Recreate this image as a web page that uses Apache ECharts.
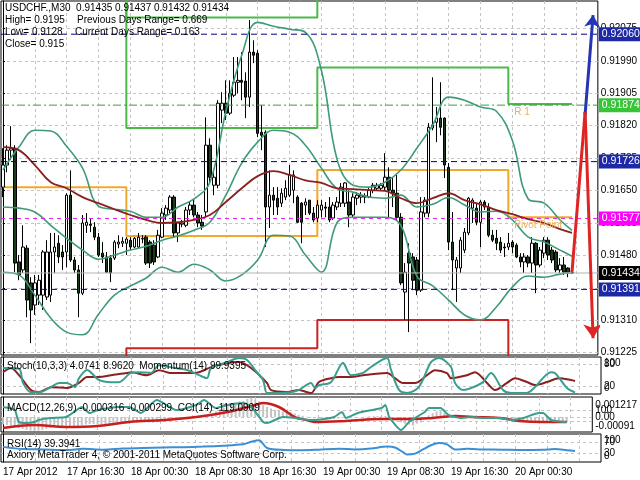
<!DOCTYPE html>
<html><head><meta charset="utf-8">
<script src="https://cdn.jsdelivr.net/npm/echarts@6.0.0/dist/echarts.min.js"></script>
<style>html,body{margin:0;padding:0;background:#fff;}#chart{width:640px;height:480px;}</style>
</head><body><div id="chart"></div>
<script>
// ---------------- data ----------------
// candles: [open, close, low, high], one per 30-minute bar (17 Apr 08:30 .. 20 Apr 08:00)
const candles = [
[0.91659,0.91717,0.91633,0.91761],[0.91717,0.91756,0.91698,0.91769],[0.91756,0.91761,0.91730,0.91819],[0.91761,0.91460,0.91436,0.91769],
[0.91463,0.91429,0.91415,0.91481],[0.91442,0.91502,0.91434,0.91559],[0.91499,0.91363,0.91318,0.91507],[0.91408,0.91337,0.91250,0.91423],
[0.91350,0.91408,0.91324,0.91429],[0.91376,0.91415,0.91350,0.91429],[0.91376,0.91489,0.91337,0.91494],[0.91371,0.91489,0.91363,0.91520],
[0.91376,0.91489,0.91358,0.91539],[0.91489,0.91502,0.91434,0.91539],[0.91512,0.91476,0.91460,0.91533],[0.91489,0.91476,0.91442,0.91507],
[0.91489,0.91638,0.91449,0.91643],[0.91638,0.91468,0.91463,0.91703],[0.91468,0.91442,0.91434,0.91476],[0.91442,0.91381,0.91318,0.91455],
[0.91381,0.91565,0.91376,0.91586],[0.91559,0.91567,0.91539,0.91591],[0.91562,0.91559,0.91541,0.91578],[0.91554,0.91528,0.91520,0.91567],
[0.91528,0.91481,0.91476,0.91539],[0.91486,0.91476,0.91460,0.91515],[0.91476,0.91436,0.91434,0.91489],[0.91473,0.91434,0.91410,0.91481],
[0.91473,0.91515,0.91468,0.91520],[0.91510,0.91515,0.91499,0.91533],[0.91512,0.91517,0.91502,0.91528],[0.91512,0.91523,0.91481,0.91528],
[0.91520,0.91502,0.91494,0.91528],[0.91502,0.91525,0.91499,0.91528],[0.91502,0.91528,0.91499,0.91539],[0.91523,0.91525,0.91512,0.91533],
[0.91528,0.91460,0.91455,0.91533],[0.91515,0.91460,0.91447,0.91520],[0.91507,0.91463,0.91455,0.91520],[0.91476,0.91533,0.91473,0.91547],
[0.91528,0.91591,0.91525,0.91604],[0.91586,0.91604,0.91573,0.91612],[0.91599,0.91633,0.91591,0.91638],[0.91633,0.91539,0.91528,0.91638],
[0.91539,0.91565,0.91515,0.91567],[0.91562,0.91565,0.91554,0.91573],[0.91559,0.91599,0.91554,0.91607],[0.91599,0.91612,0.91586,0.91620],
[0.91612,0.91586,0.91580,0.91625],[0.91586,0.91565,0.91554,0.91594],[0.91567,0.91557,0.91547,0.91586],[0.91594,0.91769,0.91580,0.91842],
[0.91769,0.91685,0.91670,0.91787],[0.91664,0.91685,0.91638,0.91698],[0.91664,0.91879,0.91656,0.91887],[0.91861,0.91879,0.91827,0.91908],
[0.91879,0.91853,0.91835,0.91939],[0.91853,0.91905,0.91848,0.91939],[0.91900,0.91934,0.91895,0.92000],[0.91934,0.91939,0.91905,0.92000],
[0.91939,0.91934,0.91887,0.92013],[0.91937,0.91895,0.91840,0.91960],[0.91895,0.92013,0.91869,0.92097],[0.92013,0.92005,0.91984,0.92044],
[0.92010,0.91800,0.91790,0.92018],[0.91803,0.91795,0.91756,0.91874],[0.91803,0.91607,0.91502,0.91808],[0.91607,0.91638,0.91552,0.91703],
[0.91638,0.91625,0.91586,0.91659],[0.91630,0.91607,0.91586,0.91659],[0.91617,0.91643,0.91607,0.91656],[0.91633,0.91656,0.91625,0.91677],
[0.91638,0.91691,0.91633,0.91717],[0.91651,0.91691,0.91617,0.91703],[0.91633,0.91567,0.91565,0.91638],[0.91617,0.91567,0.91512,0.91620],
[0.91612,0.91620,0.91586,0.91630],[0.91625,0.91591,0.91586,0.91625],[0.91591,0.91573,0.91567,0.91607],[0.91578,0.91612,0.91567,0.91625],
[0.91599,0.91612,0.91580,0.91625],[0.91607,0.91604,0.91580,0.91620],[0.91607,0.91573,0.91567,0.91633],[0.91578,0.91612,0.91573,0.91620],
[0.91607,0.91620,0.91599,0.91633],[0.91617,0.91659,0.91607,0.91670],[0.91617,0.91670,0.91607,0.91672],[0.91620,0.91586,0.91554,0.91651],
[0.91586,0.91633,0.91580,0.91643],[0.91630,0.91638,0.91612,0.91646],[0.91633,0.91638,0.91617,0.91646],[0.91633,0.91636,0.91617,0.91643],
[0.91633,0.91651,0.91630,0.91659],[0.91651,0.91664,0.91643,0.91670],[0.91656,0.91664,0.91651,0.91670],[0.91656,0.91664,0.91651,0.91670],
[0.91659,0.91685,0.91651,0.91748],[0.91685,0.91651,0.91580,0.91711],[0.91651,0.91643,0.91607,0.91683],[0.91643,0.91580,0.91573,0.91691],
[0.91580,0.91408,0.91402,0.91591],[0.91384,0.91436,0.91311,0.91460],[0.91486,0.91460,0.91279,0.91512],[0.91476,0.91415,0.91389,0.91486],
[0.91468,0.91389,0.91376,0.91476],[0.91389,0.91594,0.91384,0.91633],[0.91591,0.91625,0.91580,0.91633],[0.91591,0.91816,0.91580,0.91827],
[0.91814,0.91822,0.91808,0.91947],[0.91829,0.91840,0.91777,0.91869],[0.91840,0.91816,0.91795,0.91934],[0.91840,0.91717,0.91683,0.91842],
[0.91711,0.91515,0.91494,0.91722],[0.91515,0.91468,0.91389,0.91594],[0.91447,0.91468,0.91358,0.91476],[0.91447,0.91520,0.91434,0.91528],
[0.91494,0.91541,0.91486,0.91552],[0.91539,0.91630,0.91533,0.91633],[0.91604,0.91625,0.91565,0.91630],[0.91604,0.91567,0.91559,0.91617],
[0.91567,0.91620,0.91502,0.91625],[0.91620,0.91607,0.91599,0.91625],[0.91607,0.91533,0.91528,0.91617],[0.91533,0.91520,0.91515,0.91547],
[0.91525,0.91512,0.91494,0.91547],[0.91515,0.91494,0.91486,0.91528],[0.91502,0.91500,0.91476,0.91512],[0.91502,0.91512,0.91494,0.91539],
[0.91515,0.91502,0.91486,0.91520],[0.91507,0.91476,0.91473,0.91512],[0.91476,0.91463,0.91449,0.91486],[0.91463,0.91476,0.91434,0.91486],
[0.91476,0.91460,0.91449,0.91481],[0.91460,0.91512,0.91434,0.91528],[0.91512,0.91455,0.91381,0.91515],[0.91455,0.91494,0.91449,0.91502],
[0.91486,0.91520,0.91473,0.91528],[0.91520,0.91481,0.91468,0.91528],[0.91494,0.91468,0.91460,0.91502],[0.91489,0.91442,0.91436,0.91494],
[0.91442,0.91455,0.91434,0.91473],[0.91455,0.91436,0.91429,0.91476],[0.91447,0.91434,0.91423,0.91449],[0.91435,0.91434,0.91432,0.91437]
];
const SLOTS = 150; // bar slots across the chart width (right part is empty)

// Bollinger bands (20) and slow MA, read at these bar indices
const bandIdx  = [0,4,8,12,16,20,24,28,32,36,40,44,48,52,56,60,64,68,72,76,80,84,88,92,96,100,104,108,112,116,120,124,128,132,136,140,143];
const bbUpper  = [0.91704,0.91764,0.91808,0.91806,0.91766,0.91709,0.91609,0.91601,0.91596,0.91580,0.91580,0.91607,0.91628,0.91672,0.91856,0.92005,0.92091,0.92081,0.92073,0.92065,0.91966,0.91730,0.91664,0.91659,0.91672,0.91704,0.91761,0.91822,0.91895,0.91887,0.91869,0.91858,0.91782,0.91628,0.91617,0.91573,0.91546];
const bbMiddle = [0.91607,0.91604,0.91594,0.91559,0.91525,0.91494,0.91470,0.91481,0.91494,0.91504,0.91520,0.91531,0.91546,0.91567,0.91638,0.91722,0.91777,0.91808,0.91803,0.91769,0.91709,0.91655,0.91646,0.91633,0.91630,0.91638,0.91607,0.91614,0.91632,0.91612,0.91594,0.91596,0.91573,0.91528,0.91515,0.91494,0.91478];
const bbLower  = [0.91436,0.91429,0.91376,0.91316,0.91279,0.91272,0.91326,0.91376,0.91400,0.91421,0.91449,0.91436,0.91457,0.91442,0.91413,0.91429,0.91468,0.91533,0.91531,0.91481,0.91436,0.91567,0.91580,0.91580,0.91580,0.91559,0.91426,0.91400,0.91363,0.91324,0.91311,0.91345,0.91397,0.91426,0.91423,0.91431,0.91436];
const maSlow   = [0.91764,0.91756,0.91717,0.91672,0.91656,0.91633,0.91617,0.91601,0.91586,0.91573,0.91565,0.91567,0.91573,0.91586,0.91620,0.91656,0.91688,0.91701,0.91691,0.91677,0.91670,0.91656,0.91654,0.91651,0.91649,0.91630,0.91617,0.91630,0.91643,0.91625,0.91614,0.91599,0.91588,0.91575,0.91565,0.91549,0.91539];

// daily pivot levels (17, 18, 19, 20 Apr); first bar index of each day
const dayStart = [-0.5, 31, 79, 127];
const dayEnd = 143;
const pivotR2 = [0.92250, 0.92104, 0.92260, 0.92220];
const pivotR1 = [0.92210, 0.91814, 0.91973, 0.91877];
const pivotPP = [0.91659, 0.91531, 0.91704, 0.91580];
const pivotS1 = [0.91100, 0.91237, 0.91311, 0.91150];

// horizontal reference levels with price tags
const refLevels = [0.92060, 0.91874, 0.91726, 0.91577, 0.91434, 0.91391];
const refTags   = ['0.92060','0.91874','0.91726','0.91577','0.91434','0.91391'];

// projected path arrows [bar index, price]
const redUp     = [[143,0.91436],[146.3,0.91856]];
const redDown   = [[146.3,0.91856],[148.3,0.91263]];
const blueUp    = [[146.3,0.91850],[148.3,0.92110]];

// axis tick labels
const priceTicks = ['0.91225','0.91310','0.91395','0.91480','0.91565','0.91650','0.91735','0.91820','0.91905','0.91990','0.92075'];
const xGridIdx  = [0,8,16,24,32,40,48,56,64,72,80,88,96,104,112,120,128,136,144];
const xTickIdx  = [0,16,32,48,64,80,96,112,128];
const xTickText = ['17 Apr 2012','17 Apr 16:30','18 Apr 00:30','18 Apr 08:30','18 Apr 16:30','19 Apr 00:30','19 Apr 08:30','19 Apr 16:30','20 Apr 00:30'];

// Stochastic %K (10,3,3) and Momentum(14): [bar index, value]
const stochK = [[0,70],[4,68],[5,30],[7,5],[9,5],[12,19],[14,30],[16,30],[18,19],[19,43],[21,65],[24,38],[27,32],[29,32],[32,57],[34,59],[37,57],[39,78],[43,70],[46,65],[49,51],[51,43],[52,70],[56,86],[59,97],[61,92],[63,65],[65,38],[66,3],[68,3],[72,5],[74,11],[77,30],[78,16],[79,24],[82,32],[85,84],[87,51],[90,57],[92,73],[96,97],[97,65],[99,11],[101,3],[104,19],[107,86],[109,97],[112,73],[113,30],[115,11],[117,16],[120,32],[122,57],[125,11],[127,3],[131,3],[133,19],[137,59],[138,57],[141,16],[143,4.07]];
const momentum = [[0,99.969],[2,99.983],[4,99.959],[7,99.909],[9,99.903],[12,99.919],[16,99.916],[19,99.933],[21,99.953],[24,99.953],[27,99.959],[31,99.966],[32,99.969],[36,99.959],[39,99.976],[42,99.966],[46,99.966],[49,99.969],[52,99.986],[56,99.999],[59,100.003],[62,99.983],[66,99.933],[67,99.909],[71,99.903],[74,99.909],[77,99.899],[79,99.936],[82,99.949],[84,99.953],[87,99.953],[90,99.959],[96,99.966],[98,99.949],[100,99.933],[103,99.933],[106,99.959],[108,99.976],[111,99.966],[112,99.949],[114,99.953],[116,99.959],[118,99.969],[121,99.933],[123,99.909],[126,99.933],[128,99.949],[131,99.936],[133,99.926],[136,99.936],[139,99.949],[142,99.943],[143,99.9395]];

// MACD(12,26,9) histogram (one per bar), signal line, CCI(14)
const macdHist = [
-0.00045,-0.00048,-0.00050,-0.00060,-0.00068,-0.00072,-0.00078,-0.00082,
-0.00084,-0.00082,-0.00078,-0.00072,-0.00066,-0.00062,-0.00060,-0.00058,
-0.00052,-0.00054,-0.00056,-0.00058,-0.00050,-0.00045,-0.00042,-0.00042,
-0.00044,-0.00046,-0.00050,-0.00052,-0.00050,-0.00046,-0.00043,-0.00040,
-0.00037,-0.00035,-0.00033,-0.00031,-0.00032,-0.00034,-0.00035,-0.00032,
-0.00026,-0.00020,-0.00014,-0.00012,-0.00010,-0.00008,-0.00005,-0.00002,
-0.00001,-0.00001,-0.00002,0.00010,0.00015,0.00018,0.00035,0.00048,
0.00056,0.00066,0.00078,0.00088,0.00095,0.00098,0.00110,0.00118,
0.00105,0.00095,0.00075,0.00062,0.00052,0.00044,0.00038,0.00034,
0.00032,0.00030,0.00022,0.00014,0.00008,0.00002,-0.00004,-0.00008,
-0.00010,-0.00012,-0.00014,-0.00014,-0.00012,-0.00008,-0.00004,-0.00004,
-0.00003,-0.00002,-0.00001,0.00000,0.00002,0.00004,0.00005,0.00006,
0.00008,0.00006,0.00003,-0.00004,-0.00020,-0.00032,-0.00040,-0.00046,
-0.00052,-0.00040,-0.00032,-0.00010,0.00010,0.00024,0.00034,0.00036,
0.00026,0.00014,0.00006,0.00002,0.00001,0.00006,0.00008,0.00008,
0.00008,0.00008,0.00004,0.00000,-0.00004,-0.00008,-0.00010,-0.00012,
-0.00014,-0.00018,-0.00021,-0.00024,-0.00026,-0.00025,-0.00027,-0.00027,
-0.00026,-0.00025,-0.00026,-0.00028,-0.00029,-0.00030,-0.00031,-0.000316];
const macdSignal = [[0,-0.00067],[8,-0.00049],[16,-0.00061],[24,-0.00055],[32,-0.00030],[41,-0.00018],[49,0],[57,0.00030],[64,0.00073],[66,0.00085],[70,0.00061],[74,0],[77,-0.00018],[79,-0.00030],[87,-0.00024],[96,-0.00012],[104,-0.00012],[109,-0.00006],[115,0.00006],[119,0],[126,-0.00006],[131,-0.00024],[137,-0.00030],[143,-0.000299]];
const cci = [[0,157],[3,102],[4,-117],[6,-135],[8,-117],[9,-81],[12,-44],[16,-26],[18,66],[20,157],[22,47],[24,102],[27,139],[29,157],[32,157],[35,47],[39,285],[44,102],[49,194],[51,285],[54,139],[57,194],[61,230],[63,157],[66,-117],[67,-135],[71,-26],[74,-44],[78,-81],[79,-81],[84,-26],[86,66],[87,-44],[90,47],[96,139],[97,194],[98,-26],[101,-264],[103,-117],[107,66],[108,139],[111,139],[113,11],[116,-44],[119,-26],[122,-44],[126,-44],[129,-81],[132,-44],[136,47],[137,47],[139,-81],[142,-117],[143,-119.09]];

// RSI(14)
const rsi = [[0,54],[5,46],[10,45],[16,43],[20,47],[25,44],[30,48],[35,50],[40,52],[45,53],[50,55],[55,58],[60,63],[62,72],[64,78],[66,50],[70,43],[75,42],[79,44],[84,47],[88,45],[92,48],[96,55],[98,52],[100,35],[101,27],[103,30],[105,45],[107,60],[109,68],[111,63],[113,45],[116,47],[120,45],[125,44],[130,43],[135,44],[138,46],[141,42],[143,39.39]];

// ---------------- chart ----------------
const FONT = 'Liberation Sans';
const pairs = (idx, vals) => idx.map((k, j) => [k, vals[j]]);
function stepData(levels) {
  const d = [];
  for (let k = 0; k < levels.length; k++) {
    const s = dayStart[k];
    const e = k + 1 < dayStart.length ? dayStart[k + 1] : dayEnd;
    d.push([s, levels[k]], [e, levels[k]]);
  }
  return d;
}
const cats = Array.from({length: SLOTS}, (_, i) => String(i));

const dashGray = {show: true, lineStyle: {color: '#c4c4c4', type: [3, 3], width: 1}};
const gridDefs = [
  {left: 1, top: 1, width: 600, height: 354},
  {left: 1, top: 357, width: 600, height: 37},
  {left: 1, top: 397, width: 600, height: 35},
  {left: 1, top: 434, width: 600, height: 28}
];
const valX = (g, labels) => ({
  type: 'value', gridIndex: g, min: -0.5, max: SLOTS - 0.5,
  axisLine: {show: false},
  axisTick: {show: false, customValues: xGridIdx},
  axisLabel: labels ? {
    show: true, align: 'left', margin: 5, fontSize: 10, color: '#000', fontFamily: FONT,
    customValues: xTickIdx, showMinLabel: true, showMaxLabel: true, hideOverlap: false,
    formatter: v => { const k = xTickIdx.indexOf(Math.round(v)); return k >= 0 ? xTickText[k] : ''; }
  } : {show: false},
  splitLine: dashGray
});
const lbl = {fontSize: 10, color: '#000', fontFamily: FONT, margin: 3, showMinLabel: true, showMaxLabel: true, hideOverlap: false};
const richShift = Object.assign({}, lbl, {
  rich: {
    t: {fontSize: 10, fontFamily: FONT, color: '#000', padding: [12, 0, 0, 0]},
    b: {fontSize: 10, fontFamily: FONT, color: '#000', padding: [0, 0, 12, 0]},
    t2: {fontSize: 10, fontFamily: FONT, color: '#000', padding: [16, 0, 0, 0]},
    b2: {fontSize: 10, fontFamily: FONT, color: '#000', padding: [0, 0, 12, 0]}
  }
});
// a right-side axis for a panel
function rAxis(g, min, max, opts) {
  return Object.assign({
    type: 'value', gridIndex: g, min: min, max: max, position: 'right',
    axisLine: {show: false}, axisTick: {show: false}, splitLine: {show: false}
  }, opts);
}

const priceVals = priceTicks.map(Number);
const refColors = ['#000080', '#2ea82e', '#000080', '#e020e0', '#b4b4b4', '#000080'];
const refTypes = [[6, 4], [8, 3, 2, 3], [6, 4], [4, 4], 'solid', [6, 4]];
const refBg = ['#1c28a6', '#38c438', '#1c28a6', '#ff00ff', '#000000', '#1c28a6'];

const refSeries = refLevels.map((v, k) => ({
  type: 'line', xAxisIndex: 1, yAxisIndex: 0, silent: true, z: 5,
  data: [[-0.5, v], [SLOTS - 0.5, v]], showSymbol: false,
  lineStyle: {color: refColors[k], type: refTypes[k], width: 1},
  endLabel: {show: true, formatter: refTags[k], color: '#fff', backgroundColor: refBg[k],
    padding: [2, 4, 1, 3], distance: 1, fontSize: 10.5, fontFamily: FONT}
}));

const option = {
  animation: false,
  backgroundColor: '#fff',
  textStyle: {fontFamily: FONT},
  title: [
    {text: 'USDCHF.,M30  0.91435 0.91437 0.91432 0.91434', left: 5, top: 3},
    {text: 'High= 0.9195', left: 5, top: 15},
    {text: 'Previous Days Range= 0.669', left: 77, top: 15},
    {text: 'Low= 0.9128', left: 5, top: 27},
    {text: 'Current Days Range= 0.163', left: 75, top: 27},
    {text: 'Close= 0.915', left: 5, top: 39},
    {text: 'Stoch(10,3,3) 4.0741 8.9620  Momentum(14) 99.9395', left: 7, top: 361},
    {text: 'MACD(12,26,9) -0.000316 -0.000299  CCI(14) -119.0909', left: 7, top: 403},
    {text: 'RSI(14) 39.3941', left: 7, top: 439},
    {text: 'Axiory MetaTrader 4, \u00a9 2001-2011 MetaQuotes Software Corp.', left: 7, top: 450}
  ].map(t => Object.assign({padding: 0, textStyle: {fontSize: 10, fontWeight: 'normal', color: '#000', fontFamily: FONT}}, t)),
  grid: gridDefs.map(g => Object.assign({show: true, borderColor: '#000', borderWidth: 1, backgroundColor: '#fff'}, g)),
  xAxis: [
    {type: 'category', gridIndex: 0, data: cats, boundaryGap: true, show: false},
    valX(0, false), valX(1, false), valX(2, false), valX(3, true)
  ],
  yAxis: [
    // 0: price
    rAxis(0, 0.91219, 0.92147, {
      axisLine: {show: true, lineStyle: {color: '#000'}},
      axisTick: {show: true, length: 2, lineStyle: {color: '#000'}, customValues: priceVals},
      axisLabel: Object.assign({}, lbl, {customValues: priceVals,
        formatter: v => { const k = priceVals.findIndex(p => Math.abs(p - v) < 1e-7); return k >= 0 ? priceTicks[k] : ''; }}),
      splitLine: dashGray
    }),
    // 1: stochastic levels
    rAxis(1, 0, 100, {
      axisLine: {show: true, lineStyle: {color: '#000'}},
      axisTick: {show: false, customValues: [20, 80]},
      axisLabel: Object.assign({}, lbl, {customValues: [20, 80], formatter: v => String(Math.round(v))}),
      splitLine: dashGray
    }),
    // 2: momentum (hidden)
    {type: 'value', gridIndex: 1, min: 99.896, max: 100.02, show: false},
    // 3: MACD zero
    rAxis(2, -0.00091, 0.001217, {
      axisLine: {show: true, lineStyle: {color: '#000'}},
      axisTick: {show: false, customValues: [0]},
      axisLabel: Object.assign({}, lbl, {customValues: [0], formatter: () => '0.00'}),
      splitLine: dashGray
    }),
    // 4: CCI
    rAxis(2, -300, 340, {
      axisTick: {show: false, customValues: [-100, 100]},
      axisLabel: Object.assign({}, lbl, {customValues: [100], formatter: v => String(Math.round(v))}),
      splitLine: dashGray
    }),
    // 5: RSI levels
    rAxis(3, 0, 100, {
      axisLine: {show: true, lineStyle: {color: '#000'}},
      axisTick: {show: false, customValues: [30, 70]},
      axisLabel: Object.assign({}, lbl, {customValues: [30, 70], formatter: v => String(Math.round(v))}),
      splitLine: dashGray
    }),
    // 6: stochastic window extremes
    rAxis(1, 0, 100, {
      axisLabel: Object.assign({}, richShift, {customValues: [0, 100], formatter: v => v > 50 ? '{t|100}' : '{b|0}'})
    }),
    // 7: MACD window extremes
    rAxis(2, -0.00091, 0.001217, {
      axisLabel: Object.assign({}, richShift, {customValues: [-0.00091, 0.001217], formatter: v => v > 0 ? '{t2|0.001217}' : '{b2|-0.00091}'})
    }),
    // 8: RSI window extremes
    rAxis(3, 0, 100, {
      axisLabel: Object.assign({}, richShift, {customValues: [0, 100], formatter: v => v > 50 ? '{t|100}' : '{b|0}'})
    })
  ],
  series: [
    {
      type: 'candlestick', xAxisIndex: 0, yAxisIndex: 0, data: candles, barWidth: 3, z: 3,
      itemStyle: {color: '#ffffff', color0: '#1c3d1c', borderColor: '#000', borderColor0: '#000', borderWidth: 1}
    },
    {type: 'line', xAxisIndex: 1, yAxisIndex: 0, data: stepData(pivotR2), showSymbol: false, lineStyle: {color: '#4cb84c', width: 2}, z: 2},
    {type: 'line', xAxisIndex: 1, yAxisIndex: 0, data: stepData(pivotR1), showSymbol: false, lineStyle: {color: '#4cb84c', width: 2}, z: 2,
      markPoint: {symbol: 'rect', symbolSize: 0, silent: true,
        data: [{coord: [dayStart[3] + 1, pivotR1[3]], label: {show: true, formatter: 'R 1', position: [2, 3], color: '#e8b060', fontSize: 10, fontFamily: FONT}}]}},
    {type: 'line', xAxisIndex: 1, yAxisIndex: 0, data: stepData(pivotPP), showSymbol: false, lineStyle: {color: '#f2a82a', width: 2}, z: 2,
      markPoint: {symbol: 'rect', symbolSize: 0, silent: true,
        data: [{coord: [dayStart[3] + 1, pivotPP[3]], label: {show: true, formatter: 'Pivot Point', position: [2, 3], color: '#e8b060', fontSize: 10, fontFamily: FONT}}]}},
    {type: 'line', xAxisIndex: 1, yAxisIndex: 0, data: stepData(pivotS1), showSymbol: false, lineStyle: {color: '#cc2222', width: 2}, z: 2},
    ...refSeries,
    {type: 'line', xAxisIndex: 1, yAxisIndex: 0, data: pairs(bandIdx, bbUpper), smooth: 0.4, showSymbol: false, lineStyle: {color: '#3f9a7a', width: 1.6}, z: 4},
    {type: 'line', xAxisIndex: 1, yAxisIndex: 0, data: pairs(bandIdx, bbMiddle), smooth: 0.4, showSymbol: false, lineStyle: {color: '#3f9a7a', width: 1.6}, z: 4},
    {type: 'line', xAxisIndex: 1, yAxisIndex: 0, data: pairs(bandIdx, bbLower), smooth: 0.4, showSymbol: false, lineStyle: {color: '#3f9a7a', width: 1.6}, z: 4},
    {type: 'line', xAxisIndex: 1, yAxisIndex: 0, data: pairs(bandIdx, maSlow), smooth: 0.4, showSymbol: false, lineStyle: {color: '#8b2020', width: 1.8}, z: 4},
    {type: 'line', xAxisIndex: 1, yAxisIndex: 0, data: redUp, showSymbol: false, lineStyle: {color: '#e02424', width: 3}, z: 6},
    {type: 'lines', coordinateSystem: 'cartesian2d', xAxisIndex: 1, yAxisIndex: 0, z: 6,
      symbol: ['none', 'arrow'], symbolSize: 14,
      lineStyle: {color: '#e02424', width: 3, opacity: 1},
      data: [{coords: redDown}]},
    {type: 'lines', coordinateSystem: 'cartesian2d', xAxisIndex: 1, yAxisIndex: 0, z: 6,
      symbol: ['none', 'arrow'], symbolSize: 12,
      lineStyle: {color: '#2434b4', width: 3, opacity: 1},
      data: [{coords: blueUp}]},
    // stochastic panel
    {type: 'line', xAxisIndex: 2, yAxisIndex: 2, data: momentum, smooth: 0.3, showSymbol: false, lineStyle: {color: '#8b2020', width: 2}},
    {type: 'line', xAxisIndex: 2, yAxisIndex: 1, data: stochK, smooth: 0.3, showSymbol: false, lineStyle: {color: '#3a9e8e', width: 2}},
    // MACD panel
    {type: 'bar', xAxisIndex: 3, yAxisIndex: 3, data: macdHist.map((v, i) => [i, v]), barWidth: 2, itemStyle: {color: '#c4c4c4'}},
    {type: 'line', xAxisIndex: 3, yAxisIndex: 3, data: macdSignal, smooth: 0.4, showSymbol: false, lineStyle: {color: '#c81e1e', width: 2.5}},
    {type: 'line', xAxisIndex: 3, yAxisIndex: 4, data: cci, smooth: 0.2, showSymbol: false, lineStyle: {color: '#3a9e8e', width: 2}},
    // RSI panel
    {type: 'line', xAxisIndex: 4, yAxisIndex: 5, data: rsi, smooth: 0.3, showSymbol: false, lineStyle: {color: '#3b8fd4', width: 2}}
  ]
};
const chart = echarts.init(document.getElementById('chart'), null, {renderer: 'canvas'});
chart.setOption(option);
</script>
</body></html>
